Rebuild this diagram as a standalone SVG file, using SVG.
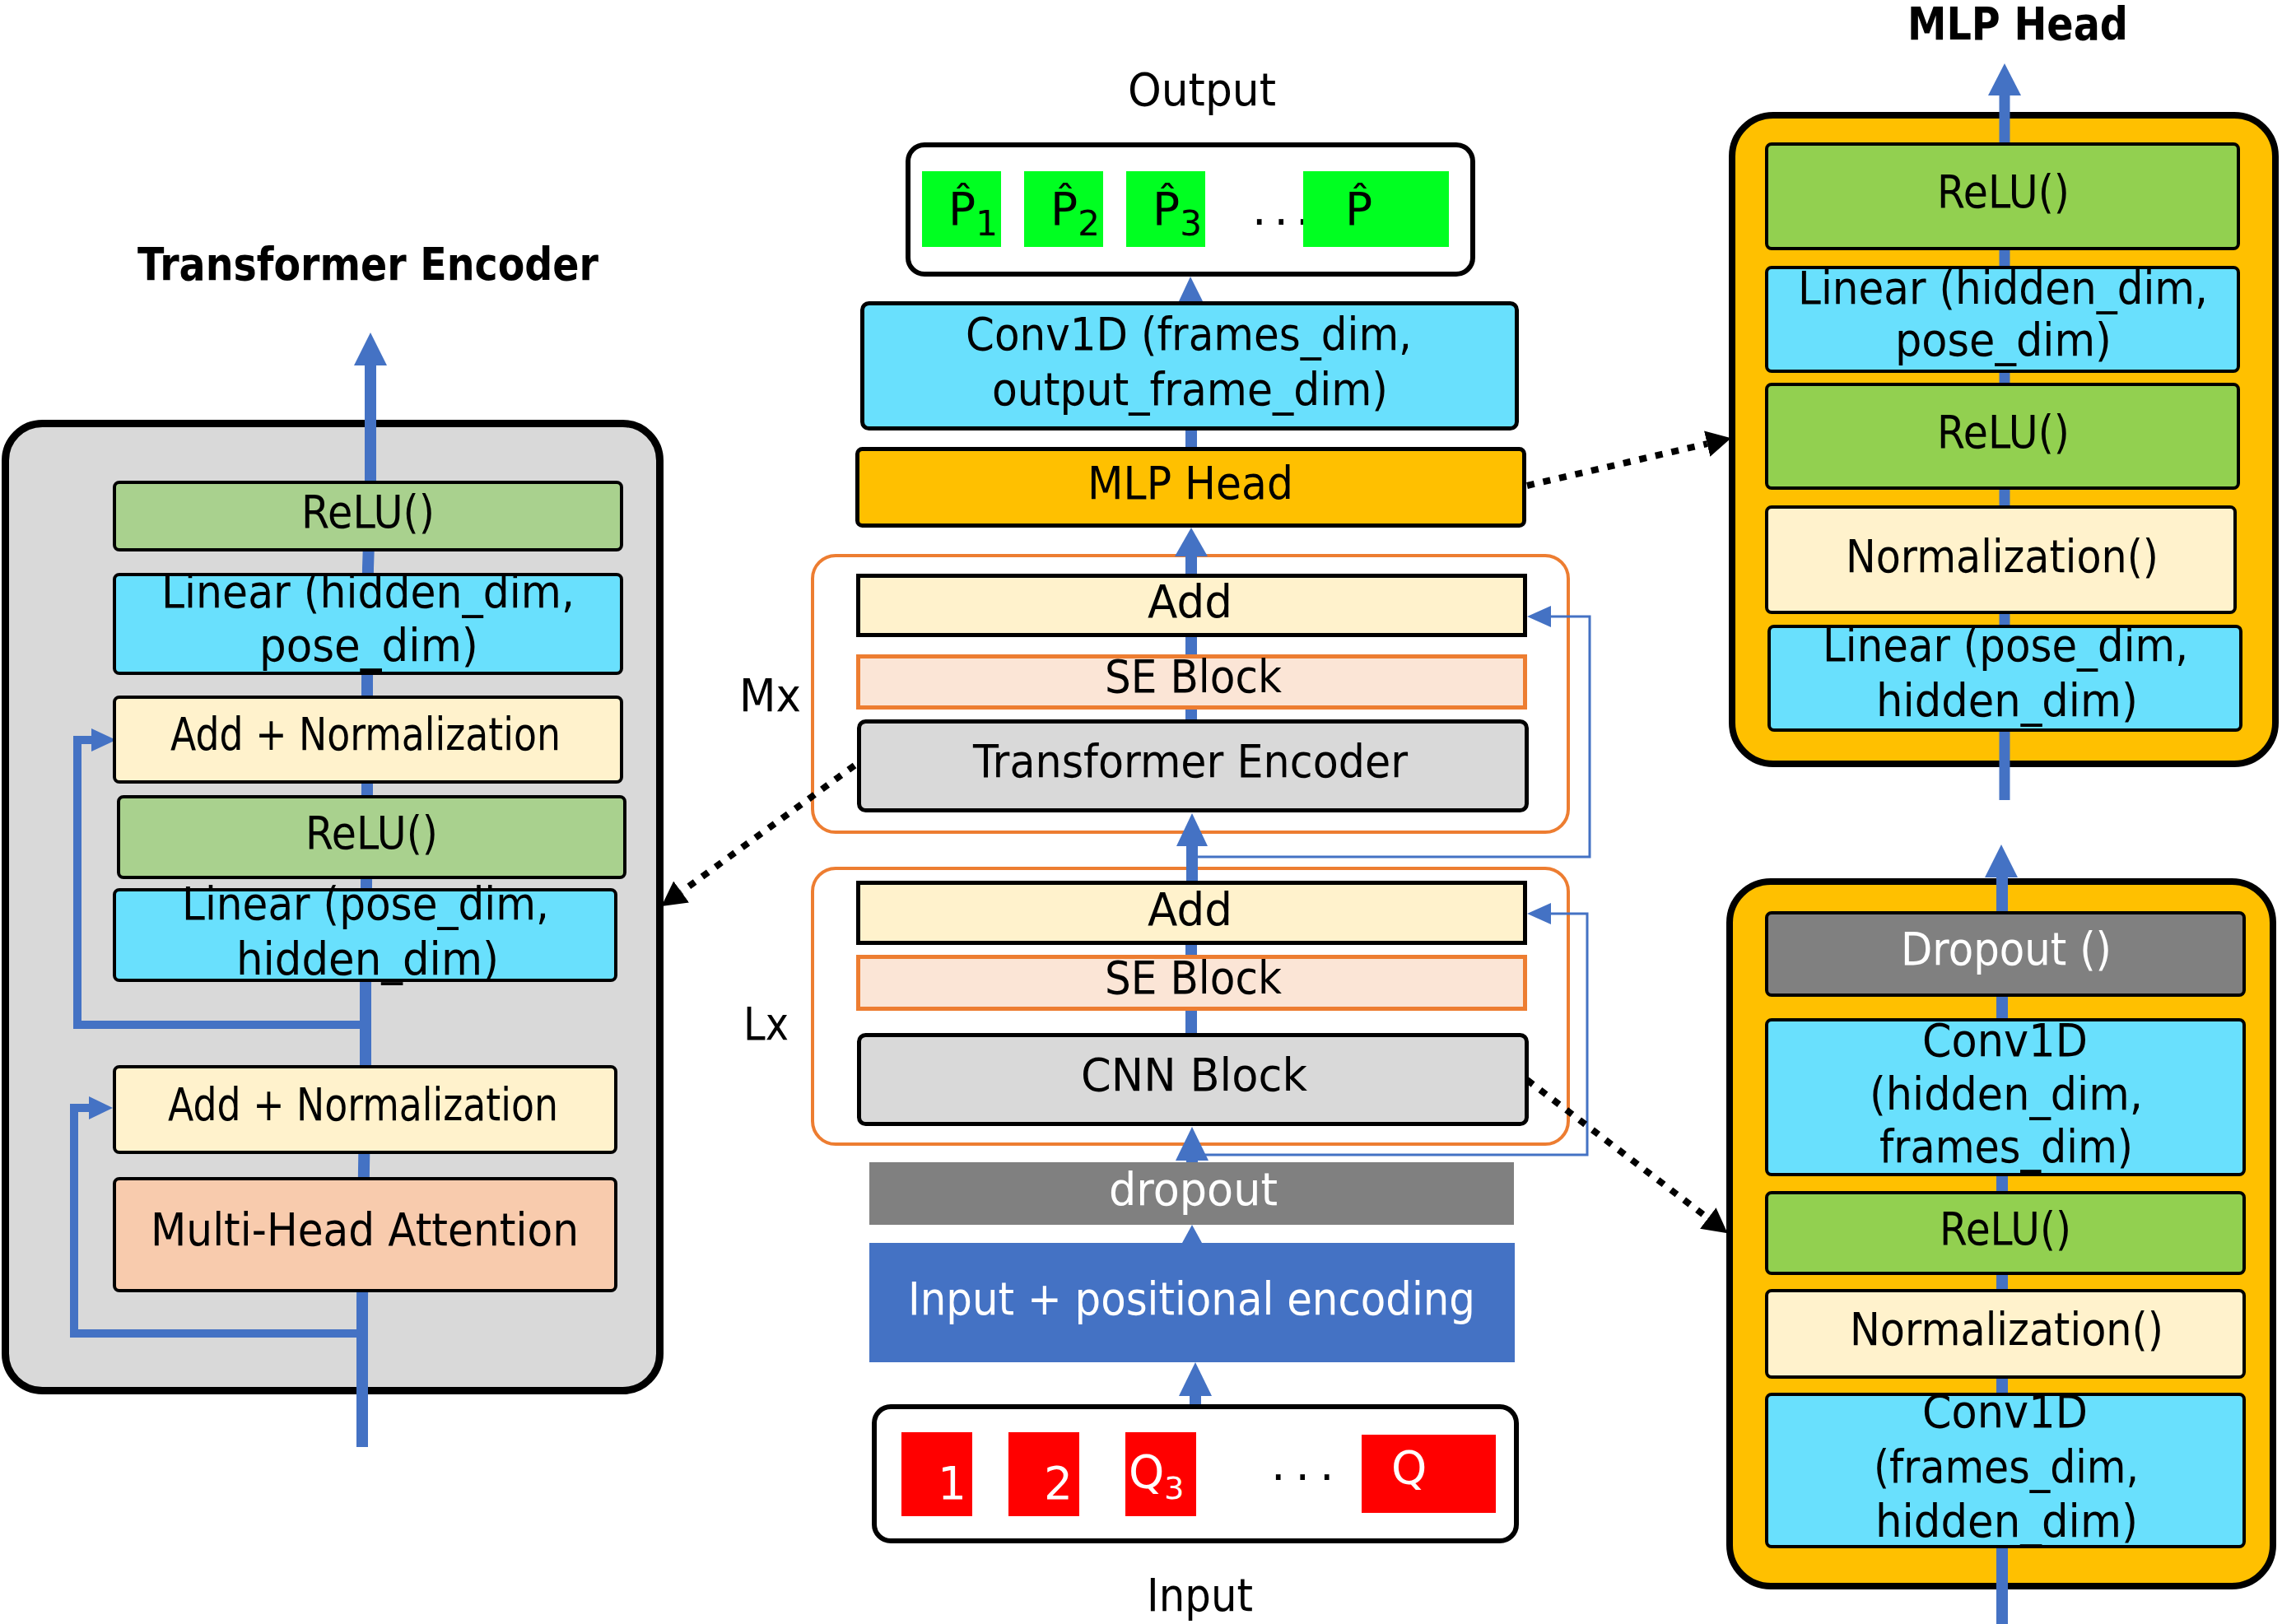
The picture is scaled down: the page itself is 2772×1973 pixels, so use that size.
<svg xmlns="http://www.w3.org/2000/svg" width="2772" height="1973" viewBox="0 0 2772 1973">
<defs>
<style>
.t{font-family:"DejaVu Sans","Liberation Sans",sans-serif;font-size:55px;fill:#000}
.w{fill:#fff}
.b{font-weight:bold}
.box{stroke:#000;stroke-width:4}
.cbox{stroke:#000;stroke-width:5}
.cyan{fill:#69E0FD}
.grn{fill:#A9D18E}
.grn2{fill:#92D050}
.yel{fill:#FFF2CC}
.pch{fill:#F8CBAD}
.gry{fill:#D9D9D9}
.dgry{fill:#808080}
.org{fill:#FFC000}
.se{fill:#FBE5D6;stroke:#ED7D31;stroke-width:5}
.ob{fill:none;stroke:#ED7D31;stroke-width:4}
.shaft{fill:none;stroke:#4472C4;stroke-width:14}
.skip{fill:none;stroke:#4472C4;stroke-width:10}
.thin{fill:none;stroke:#4472C4;stroke-width:3}
.hd{fill:#4472C4}
.dot{fill:none;stroke:#000;stroke-width:8;stroke-dasharray:9 11}
</style>
<marker id="dh" markerUnits="userSpaceOnUse" markerWidth="30" markerHeight="32" refX="0" refY="15" orient="auto" viewBox="0 0 28 30">
<path d="M0,0 L28,15 L0,30 z" fill="#000"/>
</marker>
</defs>
<rect width="2772" height="1973" fill="#fff"/>

<!-- containers -->
<g id="containers">
<g id="te-panel"><rect x="6.5" y="514.5" width="795" height="1175" rx="45" class="gry" stroke="#000" stroke-width="9"/></g>
<g id="mlp-panel"><rect x="2104" y="140" width="660" height="788" rx="50" class="org" stroke="#000" stroke-width="8"/></g>
<g id="cnn-panel"><rect x="2101" y="1071" width="660" height="856" rx="50" class="org" stroke="#000" stroke-width="8"/></g>
<g id="mx-group"><rect x="987" y="675" width="918" height="336" rx="28" class="ob"/></g>
<g id="lx-group"><rect x="987" y="1055" width="918" height="335" rx="28" class="ob"/></g>
</g>

<g id="connectors">
<!-- left panel main flow -->
<path class="shaft" d="M450,442 L450,600 L447,690 L446,830 L446,960 L445,1075 L444,1200 L444,1300 L442,1420 L440,1580 L440,1758"/>
<polygon class="hd" points="450,404 430,444 470,444"/>
<path class="skip" d="M444,1245 H94 V899 H115"/>
<polygon class="hd" points="141,899 111,885 111,913"/>
<path class="skip" d="M440,1620 H90 V1346 H112"/>
<polygon class="hd" points="137,1346 108,1332 108,1360"/>
<!-- MLP head panel flow -->
<path class="shaft" style="stroke-width:13" d="M2435,114 V972"/>
<polygon class="hd" points="2435,77 2415,116 2455,116"/>
<!-- CNN panel flow -->
<path class="shaft" d="M2432,1064 V1973"/>
<polygon class="hd" points="2431,1026 2411,1066 2451,1066"/>
<!-- center column -->
<path class="shaft" d="M1452,1694 V1708"/>
<polygon class="hd" points="1452,1655 1432,1696 1472,1696"/>
<polygon class="hd" points="1448,1488 1436,1510 1460,1510"/>
<path class="shaft" d="M1448,1408 V1413"/>
<polygon class="hd" points="1448,1369 1428,1410 1468,1410"/>
<path class="shaft" d="M1447,1226 V1259"/>
<path class="shaft" d="M1447,1146 V1164"/>
<path class="shaft" d="M1448,1026 V1073"/>
<polygon class="hd" points="1448,988 1429,1028 1467,1028"/>
<path class="shaft" d="M1447,860 V878"/>
<path class="shaft" d="M1447,772 V799"/>
<path class="shaft" d="M1447,674 V700"/>
<polygon class="hd" points="1447,641 1427,676 1467,676"/>
<path class="shaft" d="M1447,521 V547"/>
<polygon class="hd" points="1446,336 1432,366 1461,366"/>
<!-- residual skips -->
<path class="thin" d="M1454,1403 H1928 V1110 H1880"/>
<polygon class="hd" points="1855,1110 1884,1097 1884,1123"/>
<path class="thin" d="M1454,1041 H1931 V749 H1880"/>
<polygon class="hd" points="1855,749 1884,736 1884,762"/>
<!-- dotted detail links -->
<path class="dot" d="M1855,590 L2073.7,539.1" marker-end="url(#dh)"/>
<path class="dot" d="M1038,930 L827.6,1083.5" marker-end="url(#dh)"/>
<path class="dot" d="M1855,1312 L2074.8,1480" marker-end="url(#dh)"/>
</g>

<g id="nodes">
<!-- titles -->
<g id="title-te"><text class="t b" x="167" y="340" font-size="56" textLength="560" lengthAdjust="spacingAndGlyphs">Transformer Encoder</text></g>
<g id="title-mlp"><text class="t b" x="2317" y="48" font-size="52" textLength="268" lengthAdjust="spacingAndGlyphs">MLP Head</text></g>

<!-- left panel -->
<g id="te-relu2"><rect x="139" y="586" width="616" height="82" rx="6" class="box grn"/>
<text class="t" x="366" y="641" textLength="162" lengthAdjust="spacingAndGlyphs">ReLU()</text></g>
<g id="te-linear2"><rect x="139" y="698" width="616" height="120" rx="6" class="box cyan"/>
<text class="t" x="196" y="738" textLength="502" lengthAdjust="spacingAndGlyphs">Linear (hidden_dim,</text>
<text class="t" x="315" y="803" textLength="266" lengthAdjust="spacingAndGlyphs">pose_dim)</text></g>
<g id="te-addnorm2"><rect x="139" y="847" width="616" height="103" rx="6" class="box yel"/>
<text class="t" x="207" y="911" textLength="474" lengthAdjust="spacingAndGlyphs">Add + Normalization</text></g>
<g id="te-relu1"><rect x="144" y="968" width="615" height="98" rx="6" class="box grn"/>
<text class="t" x="371" y="1031" textLength="161" lengthAdjust="spacingAndGlyphs">ReLU()</text></g>
<g id="te-linear1"><rect x="139" y="1081" width="609" height="110" rx="6" class="box cyan"/>
<text class="t" x="221" y="1117" textLength="446" lengthAdjust="spacingAndGlyphs">Linear (pose_dim,</text>
<text class="t" x="287" y="1184" textLength="319" lengthAdjust="spacingAndGlyphs">hidden_dim)</text></g>
<g id="te-addnorm1"><rect x="139" y="1296" width="609" height="104" rx="6" class="box yel"/>
<text class="t" x="204" y="1361" textLength="474" lengthAdjust="spacingAndGlyphs">Add + Normalization</text></g>
<g id="te-mha"><rect x="139" y="1432" width="609" height="136" rx="6" class="box pch"/>
<text class="t" x="183" y="1513" textLength="520" lengthAdjust="spacingAndGlyphs">Multi-Head Attention</text></g>

<!-- center column -->
<g id="output-label"><text class="t" x="1370" y="128" textLength="180" lengthAdjust="spacingAndGlyphs">Output</text></g>
<g id="output"><rect x="1103" y="176" width="686" height="157" rx="20" fill="#fff" stroke="#000" stroke-width="6"/>
<rect x="1120" y="208" width="96" height="92" fill="#00FF21"/>
<rect x="1244" y="208" width="96" height="92" fill="#00FF21"/>
<rect x="1368" y="208" width="96" height="92" fill="#00FF21"/>
<text class="t" x="1521" y="273" letter-spacing="9">...</text>
<rect x="1583" y="208" width="177" height="92" fill="#00FF21"/>
<text class="t" x="1152" y="273" font-size="52">P̂<tspan dy="13" font-size="42">1</tspan></text>
<text class="t" x="1276" y="273" font-size="52">P̂<tspan dy="13" font-size="42">2</tspan></text>
<text class="t" x="1400" y="273" font-size="52">P̂<tspan dy="13" font-size="42">3</tspan></text>
<text class="t" x="1634" y="273" font-size="53">P̂</text></g>
<g id="conv-out"><rect x="1047.5" y="368.5" width="795" height="152" rx="8" class="cbox cyan"/>
<text class="t" x="1173" y="425" textLength="542" lengthAdjust="spacingAndGlyphs">Conv1D (frames_dim,</text>
<text class="t" x="1205" y="492" textLength="481" lengthAdjust="spacingAndGlyphs">output_frame_dim)</text></g>
<g id="mlp-head"><rect x="1041.5" y="545.5" width="810" height="93" rx="6" class="cbox org"/>
<text class="t" x="1321" y="606" textLength="250" lengthAdjust="spacingAndGlyphs">MLP Head</text></g>
<g id="mx-add"><rect x="1042.5" y="699.5" width="810" height="72" class="cbox yel"/>
<text class="t" x="1394" y="750" textLength="103" lengthAdjust="spacingAndGlyphs">Add</text></g>
<g id="mx-se"><rect x="1042.5" y="797.5" width="810" height="62" class="se"/>
<text class="t" x="1342" y="841" textLength="215" lengthAdjust="spacingAndGlyphs">SE Block</text></g>
<g id="mx-te"><rect x="1043.5" y="876.5" width="811" height="108" rx="8" class="cbox gry"/>
<text class="t" x="1182" y="944" textLength="528" lengthAdjust="spacingAndGlyphs">Transformer Encoder</text></g>
<g id="mx-label"><text class="t" x="898" y="864" textLength="75" lengthAdjust="spacingAndGlyphs">Mx</text></g>
<g id="lx-add"><rect x="1042.5" y="1072.5" width="810" height="73" class="cbox yel"/>
<text class="t" x="1394" y="1124" textLength="103" lengthAdjust="spacingAndGlyphs">Add</text></g>
<g id="lx-se"><rect x="1042.5" y="1162.5" width="810" height="63" class="se"/>
<text class="t" x="1342" y="1207" textLength="215" lengthAdjust="spacingAndGlyphs">SE Block</text></g>
<g id="lx-cnn"><rect x="1043.5" y="1257.5" width="811" height="108" rx="8" class="cbox gry"/>
<text class="t" x="1313" y="1325" textLength="275" lengthAdjust="spacingAndGlyphs">CNN Block</text></g>
<g id="lx-label"><text class="t" x="903" y="1263" textLength="55" lengthAdjust="spacingAndGlyphs">Lx</text></g>
<g id="dropout"><rect x="1056" y="1412" width="783" height="76" class="dgry"/>
<text class="t w" x="1347" y="1464" textLength="205" lengthAdjust="spacingAndGlyphs">dropout</text></g>
<g id="pos-enc"><rect x="1056" y="1510" width="784" height="145" fill="#4472C4"/>
<text class="t w" x="1103" y="1597" textLength="689" lengthAdjust="spacingAndGlyphs">Input + positional encoding</text></g>
<g id="input"><rect x="1062" y="1709" width="780" height="163" rx="20" fill="#fff" stroke="#000" stroke-width="6"/>
<rect x="1095" y="1740" width="86" height="102" fill="#FF0000"/>
<rect x="1225" y="1740" width="86" height="102" fill="#FF0000"/>
<rect x="1367" y="1740" width="86" height="102" fill="#FF0000"/>
<rect x="1654" y="1743" width="163" height="95" fill="#FF0000"/>
<text class="t w" x="1139" y="1821" font-size="38">1</text>
<text class="t w" x="1268" y="1821" font-size="38">2</text>
<text class="t w" x="1371" y="1807" font-size="51">Q<tspan dy="14" font-size="38">3</tspan></text>
<text class="t" x="1544" y="1798" letter-spacing="12">...</text>
<text class="t w" x="1690" y="1802" font-size="51">Q</text></g>
<g id="input-label"><text class="t" x="1393" y="1957" textLength="129" lengthAdjust="spacingAndGlyphs">Input</text></g>

<!-- MLP head panel -->
<g id="mlp-relu2"><rect x="2146" y="175" width="573" height="127" rx="6" class="box grn2"/>
<text class="t" x="2353" y="252" textLength="161" lengthAdjust="spacingAndGlyphs">ReLU()</text></g>
<g id="mlp-linear2"><rect x="2146" y="325" width="573" height="126" rx="6" class="box cyan"/>
<text class="t" x="2184" y="369" textLength="498" lengthAdjust="spacingAndGlyphs">Linear (hidden_dim,</text>
<text class="t" x="2302" y="432" textLength="263" lengthAdjust="spacingAndGlyphs">pose_dim)</text></g>
<g id="mlp-relu1"><rect x="2146" y="467" width="573" height="126" rx="6" class="box grn2"/>
<text class="t" x="2353" y="544" textLength="161" lengthAdjust="spacingAndGlyphs">ReLU()</text></g>
<g id="mlp-norm"><rect x="2146" y="616" width="569" height="128" rx="6" class="box yel"/>
<text class="t" x="2242" y="695" textLength="380" lengthAdjust="spacingAndGlyphs">Normalization()</text></g>
<g id="mlp-linear1"><rect x="2149" y="761" width="573" height="126" rx="6" class="box cyan"/>
<text class="t" x="2214" y="803" textLength="444" lengthAdjust="spacingAndGlyphs">Linear (pose_dim,</text>
<text class="t" x="2279" y="870" textLength="318" lengthAdjust="spacingAndGlyphs">hidden_dim)</text></g>

<!-- CNN block panel -->
<g id="cnn-dropout"><rect x="2146" y="1109" width="580" height="100" rx="6" class="box dgry"/>
<text class="t w" x="2309" y="1172" font-size="52" textLength="256" lengthAdjust="spacingAndGlyphs">Dropout ()</text></g>
<g id="cnn-conv2"><rect x="2146" y="1239" width="580" height="188" rx="6" class="box cyan"/>
<text class="t" x="2335" y="1283" textLength="201" lengthAdjust="spacingAndGlyphs">Conv1D</text>
<text class="t" x="2271" y="1348" textLength="332" lengthAdjust="spacingAndGlyphs">(hidden_dim,</text>
<text class="t" x="2283" y="1412" textLength="308" lengthAdjust="spacingAndGlyphs">frames_dim)</text></g>
<g id="cnn-relu"><rect x="2146" y="1449" width="580" height="98" rx="6" class="box grn2"/>
<text class="t" x="2356" y="1512" textLength="160" lengthAdjust="spacingAndGlyphs">ReLU()</text></g>
<g id="cnn-norm"><rect x="2146" y="1568" width="580" height="105" rx="6" class="box yel"/>
<text class="t" x="2247" y="1634" textLength="381" lengthAdjust="spacingAndGlyphs">Normalization()</text></g>
<g id="cnn-conv1"><rect x="2146" y="1694" width="580" height="185" rx="6" class="box cyan"/>
<text class="t" x="2335" y="1734" textLength="201" lengthAdjust="spacingAndGlyphs">Conv1D</text>
<text class="t" x="2276" y="1801" textLength="322" lengthAdjust="spacingAndGlyphs">(frames_dim,</text>
<text class="t" x="2278" y="1867" textLength="319" lengthAdjust="spacingAndGlyphs">hidden_dim)</text></g>
</g>
</svg>
